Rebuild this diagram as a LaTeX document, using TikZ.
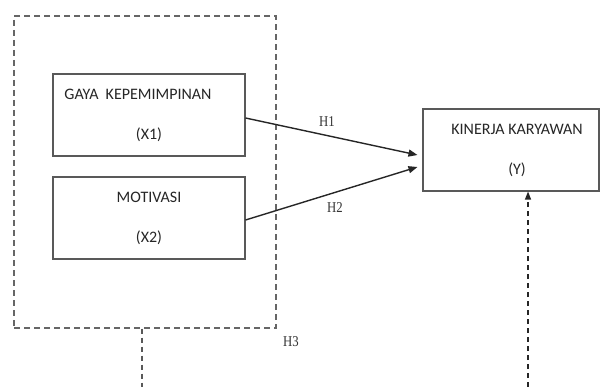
\documentclass[tikz,border=0pt]{standalone}
\usepackage{fontspec}
\setmainfont{Carlito}
\newfontfamily\hfont{Liberation Serif}
\usetikzlibrary{arrows.meta}
\tikzset{
  varbox/.style={draw=black!65, line width=1.1pt, fill=white, inner sep=0pt, align=center,
    font=\fontsize{16}{40}\selectfont, text=black!85},
  grpbox/.style={draw=black!60, line width=1.1pt, dash pattern=on 6pt off 4pt, inner sep=0pt},
  hyp/.style={line width=1.4pt, draw=black!85, -{Triangle[length=9pt,width=7pt]}},
  hlab/.style={font=\hfont\fontsize{15}{16}\selectfont, text=black!80, inner sep=0pt, xscale=0.85},
  dashlink/.style={line width=1.1pt, draw=black!65, dash pattern=on 5pt off 4pt},
  dasharrow/.style={line width=1.2pt, draw=black!85, dash pattern=on 5pt off 4pt, -{Triangle[length=8pt,width=6pt]}}
}
\begin{document}
\begin{tikzpicture}[x=1pt,y=-1pt]
\useasboundingbox (0,0) rectangle (601,387);
\node[grpbox, minimum width=262pt, minimum height=312pt] (grp) at (145,172) {};
\node[varbox, minimum width=192pt, minimum height=82pt] (x1) at (149,115) {GAYA\ \ KEPEMIMPINAN\hspace*{22pt}\\(X1)};
\node[varbox, minimum width=192pt, minimum height=82pt] (x2) at (149,218) {MOTIVASI\\(X2)};
\node[varbox, minimum width=176pt, minimum height=82pt] (y) at (511,150) {\hspace*{12pt}KINERJA KARYAWAN\\\hspace*{12pt}(Y)};
\draw[hyp] ([yshift=-3pt]x1.east) -- ([xshift=-5pt,yshift=-5pt]y.west);
\draw[hyp] ([yshift=-2pt]x2.east) -- ([xshift=-5pt,yshift=-17pt]y.west);
\node[hlab] (h1) at (327,122) {H1};
\node[hlab] (h2) at (335,208) {H2};
\node[hlab] (h3) at (291,342) {H3};
\coordinate (d1) at (142,387);
\coordinate (d2) at (528,387);
\draw[dashlink] (grp.south -| d1) -- (d1);
\draw[dasharrow] (d2) -- (y.south -| d2);
\end{tikzpicture}
\end{document}
